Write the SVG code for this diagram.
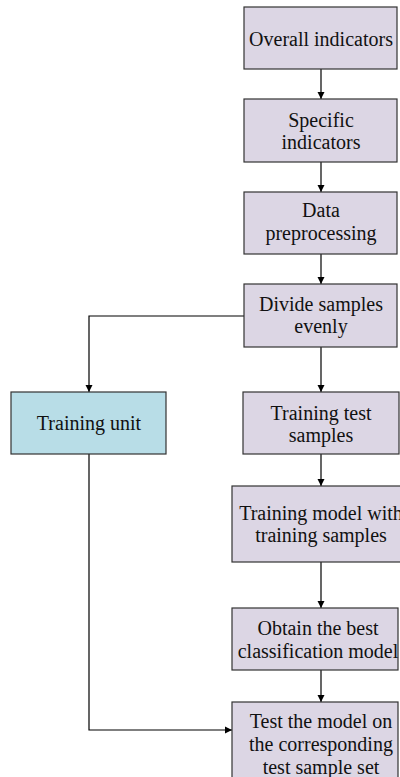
<svg xmlns="http://www.w3.org/2000/svg" width="400" height="777" viewBox="0 0 400 777">
  <defs>
    <marker id="arrow" viewBox="0 0 10 10" refX="10" refY="5" markerWidth="7" markerHeight="9" markerUnits="userSpaceOnUse" orient="auto">
      <path d="M0,0 L10,5 L0,10 z" fill="#000"/>
    </marker>
  </defs>
  <style>
    .box { fill: #dcd6e4; stroke: #333; stroke-width: 1.2; }
    .unit { fill: #b8dde7; stroke: #333; stroke-width: 1.2; }
    .lbl { font-family: "Liberation Serif", "Times New Roman", serif; font-size: 20px; fill: #111; text-anchor: middle; }
    .conn { fill: none; stroke: #000; stroke-width: 1.2; marker-end: url(#arrow); }
  </style>
  <rect width="400" height="777" fill="#fff"/>

  <g id="connectors">
    <path class="conn" d="M321,69 V99"/>
    <path class="conn" d="M321,162 V192"/>
    <path class="conn" d="M321,254 V284"/>
    <path class="conn" d="M321,347 V392"/>
    <path class="conn" d="M244,316 H89 V392"/>
    <path class="conn" d="M321,454 V486"/>
    <path class="conn" d="M321,562 V608"/>
    <path class="conn" d="M321,670 V702"/>
    <path class="conn" d="M89,454 V730 H232"/>
  </g>

  <g id="overall">
    <rect class="box" x="244" y="7" width="153" height="62"/>
    <text class="lbl" x="321" y="46">Overall indicators</text>
  </g>
  <g id="specific">
    <rect class="box" x="244" y="99" width="153" height="63"/>
    <text class="lbl" x="321" y="127">Specific</text>
    <text class="lbl" x="321" y="149">indicators</text>
  </g>
  <g id="preprocessing">
    <rect class="box" x="244" y="192" width="153" height="62"/>
    <text class="lbl" x="321" y="217">Data</text>
    <text class="lbl" x="321" y="240">preprocessing</text>
  </g>
  <g id="divide">
    <rect class="box" x="244" y="284" width="153" height="63"/>
    <text class="lbl" x="321" y="311">Divide samples</text>
    <text class="lbl" x="321" y="333">evenly</text>
  </g>
  <g id="training-unit">
    <rect class="unit" x="11" y="392" width="155" height="62"/>
    <text class="lbl" x="89" y="430">Training unit</text>
  </g>
  <g id="test-samples">
    <rect class="box" x="243" y="392" width="156" height="62"/>
    <text class="lbl" x="321" y="420">Training test</text>
    <text class="lbl" x="321" y="442">samples</text>
  </g>
  <g id="train-model">
    <rect class="box" x="232" y="486" width="178" height="76"/>
    <text class="lbl" x="321" y="520">Training model with</text>
    <text class="lbl" x="321" y="542">training samples</text>
  </g>
  <g id="best-model">
    <rect class="box" x="232" y="608" width="166" height="62"/>
    <text class="lbl" x="318" y="635">Obtain the best</text>
    <text class="lbl" x="318" y="658">classification model</text>
  </g>
  <g id="test-model">
    <rect class="box" x="232" y="702" width="166" height="85"/>
    <text class="lbl" x="321" y="728">Test the model on</text>
    <text class="lbl" x="321" y="751">the corresponding</text>
    <text class="lbl" x="321" y="774">test sample set</text>
  </g>
</svg>
